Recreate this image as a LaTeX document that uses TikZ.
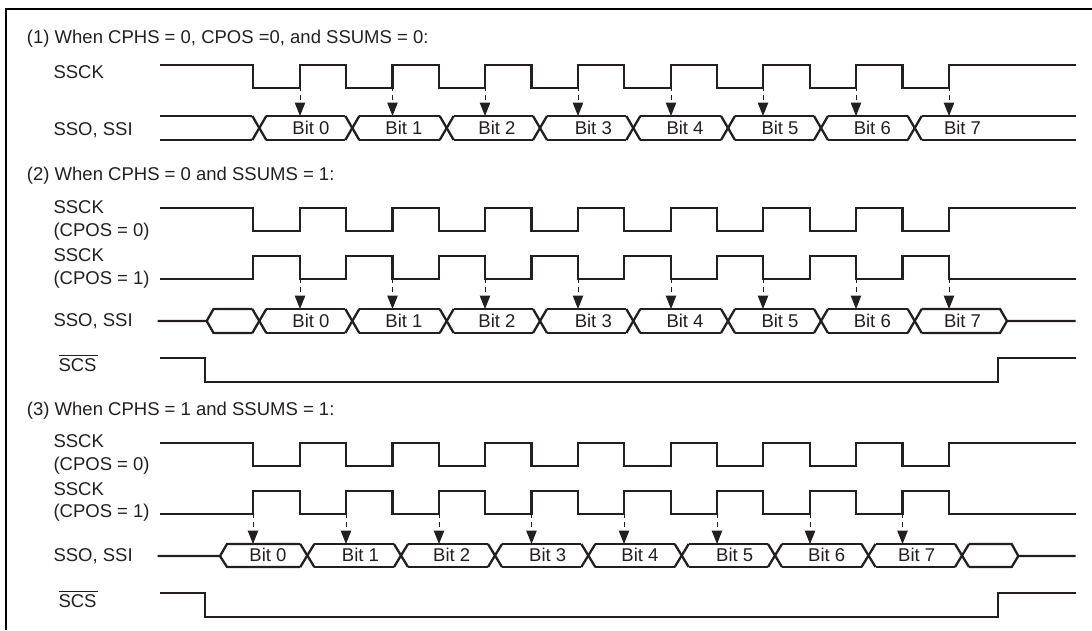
\documentclass[tikz,border=0pt]{standalone}
\usepackage{fontspec}
\setmainfont{Liberation Sans}
\usetikzlibrary{arrows.meta}
\definecolor{ink}{HTML}{231F20}
\tikzset{
  wave/.style={line width=2.3pt,draw=ink,line join=miter,line cap=butt},
  frameline/.style={line width=2.2pt,draw=black},
  sample/.style={draw=ink,line width=1pt,dash pattern=on 5pt off 4pt,-{Triangle[length=13.5pt,width=10.5pt,fill=ink]}},
  lbl/.style={anchor=base west,inner sep=0pt,outer sep=0pt,text=ink,font=\fontsize{18.5}{20}\selectfont},
  bitlbl/.style={anchor=base,inner sep=0pt,outer sep=0pt,text=ink,font=\fontsize{18.5}{20}\selectfont},
  bar/.style={draw=ink,line width=0.8pt}
}
% clock: starts at level #1, other level #2
\newcommand{\clockwave}[2]{%
  \draw[wave] (160,#1) -| (253,#2) -| (300,#1) -| (346,#2) -| (392.5,#1) -| (439,#2) -| (485,#1)
    -| (531.5,#2) -| (578,#1) -| (624,#2) -| (671,#1) -| (717,#2) -| (763,#1) -| (810,#2)
    -| (856,#1) -| (902.5,#2) -| (949,#1) -- (1075.5,#1);}
% crossings and flats of a data bus: #1 top, #2 bottom, #3 list of crossing pairs
\newcommand{\busflats}[3]{%
  \foreach \a/\b in {#3}{%
    \draw[wave] (\a+7,#1) -- (\b-7,#1);
    \draw[wave] (\a+7,#2) -- (\b-7,#2);
    \draw[wave] (\a-7,#1) -- (\a+7,#2);
    \draw[wave] (\a-7,#2) -- (\a+7,#1);
  }}
\begin{document}
\begin{tikzpicture}[x=1pt,y=-1pt]
\useasboundingbox (0,0) rectangle (1092,630);
\draw[frameline] (6,630) -- (6,9) -- (1092,9);

% ---------- (1)
\node[lbl] (t1) at (27,43.5) {(1) When CPHS = 0, CPOS =0, and SSUMS = 0:};
\node[lbl] (l1a) at (53.5,78) {SSCK};
\node[lbl] (l1b) at (53.5,135) {SSO, SSI};
\clockwave{65}{88}
\busflats{116}{140}{259.3/352.3,352.3/446.7,446.7/540,540/633.3,633.3/728,728/821,821/914.7}
\draw[wave] (160,116) -- (252.3,116); \draw[wave] (160,140) -- (252.3,140);
\draw[wave] (914.7-7,116) -- (914.7+7,140); \draw[wave] (914.7-7,140) -- (914.7+7,116);
\draw[wave] (921.7,116) -- (1075.5,116); \draw[wave] (921.7,140) -- (1075.5,140);
\foreach \x [count=\i] in {300,392.5,485,578,671,763,856,949}{
  \coordinate (as\i) at (\x,86);
  \coordinate (at\i) at (\x,116);
  \draw[sample] (as\i) -- (at\i);
}
\foreach \x [count=\i from 0] in {311,404,497,593.3,685,780,872.3,962.5}{
  \node[bitlbl] (ba\i) at (\x,134.5) {Bit \i};
}

% ---------- (2)
\node[lbl] (t2) at (27,180.7) {(2) When CPHS = 0 and SSUMS = 1:};
\node[lbl] (l2a) at (53.5,213.3) {SSCK};
\node[lbl] (l2b) at (53.5,236) {(CPOS = 0)};
\node[lbl] (l2c) at (53.5,261.7) {SSCK};
\node[lbl] (l2d) at (53.5,284) {(CPOS = 1)};
\node[lbl] (l2e) at (53.5,326.7) {SSO, SSI};
\node[lbl] (l2f) at (58.5,371.7) {SCS};
\draw[bar] (58.5,355) -- (98,355);
\clockwave{208}{231}
\clockwave{279}{256}
\busflats{309}{333}{259.3/352.3,352.3/446.7,446.7/540,540/633.3,633.3/728,728/821,821/914.7}
\draw[wave] (914.7-7,309) -- (914.7+7,333); \draw[wave] (914.7-7,333) -- (914.7+7,309);
\draw[wave] (157.5,321) -- (206.7,321) -- (213.5,309) -- (252.3,309);
\draw[wave] (206.7,321) -- (213.5,333) -- (252.3,333);
\draw[wave] (921.7,309) -- (1000,309) -- (1007,321) -- (1075.5,321);
\draw[wave] (921.7,333) -- (1000,333) -- (1007,321);
\draw[wave] (160,358) -| (205,382) -| (998.3,358) -- (1075.5,358);
\foreach \x [count=\i] in {300,392.5,485,578,671,763,856,949}{
  \coordinate (bs\i) at (\x,278);
  \coordinate (bt\i) at (\x,309);
  \draw[sample] (bs\i) -- (bt\i);
}
\foreach \x [count=\i from 0] in {311,404,497,593.3,685,780,872.3,962.5}{
  \node[bitlbl] (bb\i) at (\x,327.5) {Bit \i};
}

% ---------- (3)
\node[lbl] (t3) at (27,415) {(3) When CPHS = 1 and SSUMS = 1:};
\node[lbl] (l3a) at (53.5,447.7) {SSCK};
\node[lbl] (l3b) at (53.5,470) {(CPOS = 0)};
\node[lbl] (l3c) at (53.5,495) {SSCK};
\node[lbl] (l3d) at (53.5,517.7) {(CPOS = 1)};
\node[lbl] (l3e) at (53.5,561) {SSO, SSI};
\node[lbl] (l3f) at (58.5,607) {SCS};
\draw[bar] (58.5,591.7) -- (98,591.7);
\clockwave{443}{466}
\clockwave{514}{491}
\busflats{544}{567}{307.3/401,401/495,495/588.3,588.3/681.7,681.7/775,775/868.5,868.5/962}
\draw[wave] (962-7,544) -- (962+7,567); \draw[wave] (962-7,567) -- (962+7,544);
\draw[wave] (157.5,556) -- (220,556) -- (227,544) -- (300.3,544);
\draw[wave] (220,556) -- (227,567) -- (300.3,567);
\draw[wave] (969,544) -- (1011.7,544) -- (1018.3,556) -- (1075.5,556);
\draw[wave] (969,567) -- (1011.7,567) -- (1018.3,556);
\draw[wave] (160,593) -| (205,617) -| (998.3,593) -- (1075.5,593);
\foreach \x [count=\i] in {253,346,439,531.5,624,717,810,902.5}{
  \coordinate (cs\i) at (\x,513);
  \coordinate (ct\i) at (\x,544);
  \draw[sample] (cs\i) -- (ct\i);
}
\foreach \x [count=\i from 0] in {268,360.5,451.7,547.7,640,734.7,826.7,916.7}{
  \node[bitlbl] (bc\i) at (\x,561.5) {Bit \i};
}
\end{tikzpicture}
\end{document}
